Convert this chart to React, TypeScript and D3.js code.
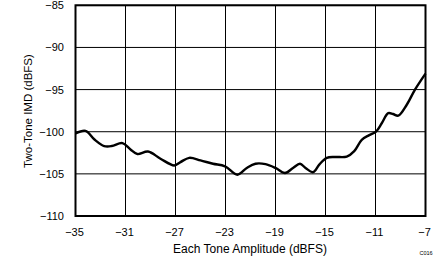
import React from "react";
import * as d3 from "d3";

const xTicks = [-35, -31, -27, -23, -19, -15, -11, -7];
const yTicks = [-85, -90, -95, -100, -105, -110];

const amplitude = [
  -35, -34.2, -33.5, -32.7, -32.1, -31.25, -30.6, -30.05, -29.2, -28.2, -27.1, -26.6, -25.9, -25,
  -24, -23.04, -22.05, -21.3, -20.6, -19.8, -19, -18.24, -17.6, -17.04, -16.6, -16.0, -15.5, -14.9,
  -14.2, -13.3, -12.7, -12.1, -11.5, -10.96, -10.5, -9.98, -9.6, -9.18, -8.5, -7.84, -7.0,
];
const imd = [
  -100.2, -99.9, -100.9, -101.7, -101.7, -101.35, -102.1, -102.65, -102.35, -103.2, -104.0, -103.6,
  -103.1, -103.4, -103.8, -104.1, -105.1, -104.3, -103.8, -103.85, -104.3, -104.9, -104.3, -103.8,
  -104.3, -104.8, -103.9, -103.1, -103.0, -102.95, -102.3, -100.96, -100.4, -99.98, -99.0, -97.8,
  -97.9, -98.1, -96.8, -95.0, -93.1,
];

const fmt = (v: number) => (v < 0 ? "\u2212" + Math.abs(v) : String(v));

export default function App() {
  const W = 442, H = 258;
  const left = 75.5, right = 425.5, top = 5.3, bottom = 216;
  const x = d3.scaleLinear().domain([-35, -7]).range([left, right]);
  const y = d3.scaleLinear().domain([-110, -85]).range([bottom, top]);
  const pts = amplitude.map((a, i) => [a, imd[i]] as [number, number]);
  const line = d3
    .line<[number, number]>()
    .x((d) => x(d[0]))
    .y((d) => y(d[1]))
    .curve(d3.curveCatmullRom.alpha(0.5));
  const font = "'Liberation Sans', Arial, sans-serif";
  return (
    <svg
      width={W}
      height={H}
      style={{ position: "absolute", left: 0, top: 0, background: "#fff" }}
      fontFamily={font}
    >
      {xTicks.map((t) => (
        <line key={"gx" + t} x1={x(t)} x2={x(t)} y1={top} y2={bottom} stroke="#000" strokeWidth={1} />
      ))}
      {yTicks.map((t) => (
        <line key={"gy" + t} x1={left} x2={right} y1={y(t)} y2={y(t)} stroke="#000" strokeWidth={1} />
      ))}
      <path d={line(pts) || ""} fill="none" stroke="#000" strokeWidth={2.4} strokeLinejoin="round" />
      <rect x={left} y={top} width={right - left} height={bottom - top} fill="none" stroke="#000" strokeWidth={2} />
      {yTicks.map((t) => (
        <text key={"ty" + t} x={64} y={y(t) + 4} textAnchor="end" fontSize={11} fill="#000">
          {fmt(t)}
        </text>
      ))}
      {xTicks.map((t) => (
        <text key={"tx" + t} x={x(t) - 1} y={236} textAnchor="middle" fontSize={11} fill="#000">
          {fmt(t)}
        </text>
      ))}
      <text x={250} y={253} textAnchor="middle" fontSize={12} fill="#000">
        Each Tone Amplitude (dBFS)
      </text>
      <text
        transform={`translate(32,111) rotate(-90)`}
        textAnchor="middle"
        fontSize={11.5}
        fill="#000"
      >
        Two-Tone IMD (dBFS)
      </text>
      <text x={426} y={255} textAnchor="middle" fontSize={5.5} fill="#000">
        C016
      </text>
    </svg>
  );
}
